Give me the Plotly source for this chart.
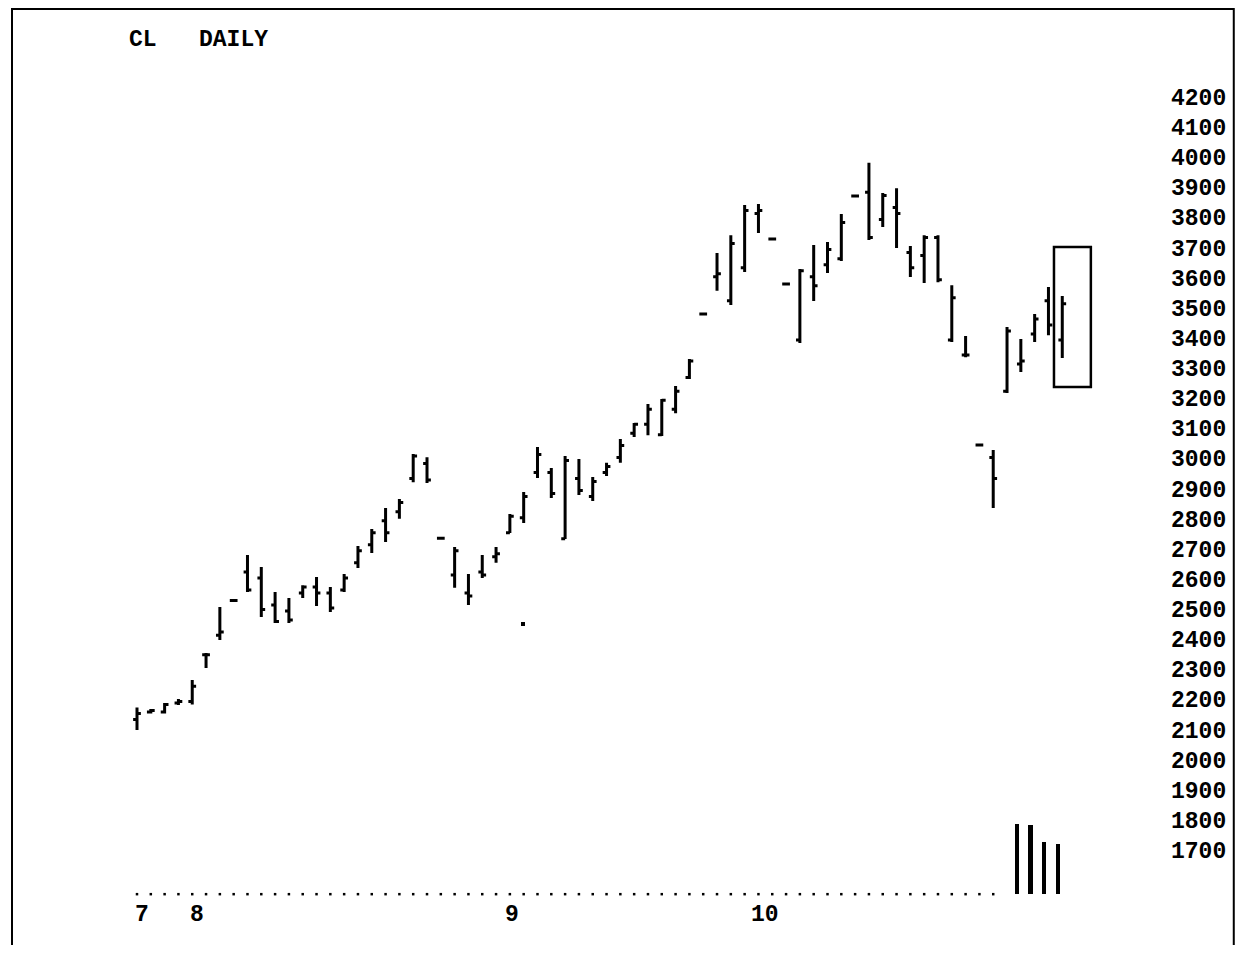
import plotly.graph_objects as go

# ---- data ----
day = list(range(68))
high = [2180, 2175, 2195, 2208, 2271, 2361, 2513, 2540, 2686, 2646,
        2563, 2543, 2586, 2613, 2580, 2623, 2716, 2772, 2842, 2872,
        3021, 3011, 2745, 2713, 2623, 2686, 2713, 2822, 2895, 3045,
        2975, 3015, 3005, 2945, 2992, 3071, 3124, 3187, 3204, 3247,
        3337, 3490, 3689, 3748, 3848, 3851, 3738, 3589, 3636, 3715,
        3725, 3818, 3881, 3988, 3888, 3904, 3712, 3748, 3748, 3582,
        3413, 3054, 3035, 3443, 3403, 3486, 3576, 3546]
low = [2105, 2160, 2160, 2188, 2190, 2311, 2404, 2530, 2563, 2480,
       2460, 2460, 2543, 2517, 2497, 2563, 2643, 2693, 2729, 2806,
       2928, 2925, 2740, 2577, 2520, 2610, 2660, 2759, 2792, 2942,
       2875, 2739, 2885, 2865, 2948, 2992, 3078, 3084, 3081, 3157,
       3270, 3482, 3563, 3516, 3626, 3755, 3732, 3583, 3390, 3529,
       3622, 3662, 3875, 3732, 3775, 3705, 3609, 3589, 3592, 3393,
       3343, 3048, 2842, 3224, 3294, 3393, 3416, 3340]
open_ = [2140, 2165, 2165, 2195, 2200, 2355, 2420, 2535, 2630, 2610,
         2520, 2500, 2560, 2580, 2560, 2570, 2660, 2720, 2800, 2830,
         2940, 2990, 2742, 2620, 2560, 2630, 2680, 2760, 2810, 2960,
         2960, 2740, 2940, 2880, 2960, 3010, 3090, 3120, 3085, 3170,
         3275, 3486, 3610, 3530, 3640, 3820, 3735, 3586, 3400, 3610,
         3650, 3670, 3878, 3890, 3800, 3840, 3690, 3680, 3740, 3400,
         3350, 3051, 3010, 3230, 3320, 3420, 3530, 3400]
close = [2160, 2170, 2190, 2200, 2250, 2355, 2430, 2535, 2570, 2505,
         2465, 2470, 2580, 2560, 2510, 2610, 2700, 2760, 2760, 2860,
         3015, 2935, 2742, 2700, 2550, 2620, 2690, 2815, 2880, 3020,
         2890, 3000, 2900, 2930, 2980, 3050, 3120, 3170, 3200, 3230,
         3330, 3486, 3620, 3720, 3830, 3830, 3735, 3586, 3630, 3580,
         3700, 3790, 3878, 3740, 3880, 3820, 3640, 3740, 3600, 3540,
         3350, 3051, 2940, 3430, 3330, 3470, 3450, 3520]

stray_day = [27.95]
stray_price = [2457]

vol_day = [63.7, 64.7, 65.7, 66.7]
vol_top = [1793, 1790, 1733, 1727]
base_price = 1560
dot_days = list(range(63))

month_labels = ["7", "8", "9", "10"]
month_pos = [0.36, 4.34, 27.15, 45.48]

price_ticks = list(range(1700, 4300, 100))

box_days = [66.4, 69.07]
box_prices = [3244, 3709]

FONT = "Liberation Mono"
OFF = 8  # page body margin
W, H = 1243 - 2 * OFF, 953 - 2 * OFF


def px(x):
    return (x - OFF) / W


def py(y):
    return 1 - (y - OFF) / H


fig = go.Figure()

fig.add_trace(go.Ohlc(
    x=day, open=open_, high=high, low=low, close=close,
    increasing=dict(line=dict(color="black", width=3)),
    decreasing=dict(line=dict(color="black", width=3)),
    tickwidth=0.28, hoverinfo="skip", showlegend=False))

fig.add_trace(go.Scatter(
    x=stray_day, y=stray_price, mode="markers",
    marker=dict(color="black", size=4, symbol="square"),
    showlegend=False, hoverinfo="skip"))

fig.add_trace(go.Bar(
    x=vol_day, y=[t - base_price for t in vol_top], base=base_price,
    width=0.3, marker=dict(color="black", line=dict(width=0)),
    showlegend=False, hoverinfo="skip"))

fig.add_trace(go.Scatter(
    x=dot_days, y=[base_price] * len(dot_days), mode="markers",
    marker=dict(color="black", size=2.5, symbol="square"),
    showlegend=False, hoverinfo="skip"))

annotations = []
for p in price_ticks:
    annotations.append(dict(
        x=px(1169), xref="paper", y=p, yref="y", text="<b>%d</b>" % p,
        showarrow=False, xanchor="left", yanchor="middle",
        font=dict(family=FONT, size=23, color="black")))
for lbl, pos in zip(month_labels, month_pos):
    annotations.append(dict(
        x=pos, xref="x", y=py(915), yref="paper", text="<b>%s</b>" % lbl,
        showarrow=False, xanchor="center", yanchor="middle",
        font=dict(family=FONT, size=23, color="black")))
annotations.append(dict(x=px(127), xref="paper", y=py(40), yref="paper",
                        text="<b>CL</b>", showarrow=False, xanchor="left",
                        yanchor="middle", font=dict(family=FONT, size=23, color="black")))
annotations.append(dict(x=px(197), xref="paper", y=py(40), yref="paper",
                        text="<b>DAILY</b>", showarrow=False, xanchor="left",
                        yanchor="middle", font=dict(family=FONT, size=23, color="black")))

shapes = [
    dict(type="rect", xref="x", yref="y", x0=box_days[0], x1=box_days[1],
         y0=box_prices[0], y1=box_prices[1], line=dict(color="black", width=2.5)),
    dict(type="rect", xref="paper", yref="paper", x0=px(12), x1=0.999,
         y0=-0.05, y1=0.999, line=dict(color="black", width=2)),
]

# axis ranges map day slots / prices onto the reference pixel grid
x_left = (OFF - 137) / 13.81
x_right = (OFF + W - 137) / 13.81
y_top = 4200 + (99 - OFF) / 0.3012
y_bot = 4200 - (OFF + H - 99) / 0.3012

fig.update_layout(
    width=W, height=H,
    margin=dict(l=0, r=0, t=0, b=0),
    paper_bgcolor="white", plot_bgcolor="white",
    xaxis=dict(range=[x_left, x_right], visible=False, rangeslider=dict(visible=False),
               showgrid=False, zeroline=False),
    yaxis=dict(range=[y_bot, y_top], visible=False, showgrid=False, zeroline=False),
    annotations=annotations, shapes=shapes, bargap=0,
)

fig.write_html("out.html")
